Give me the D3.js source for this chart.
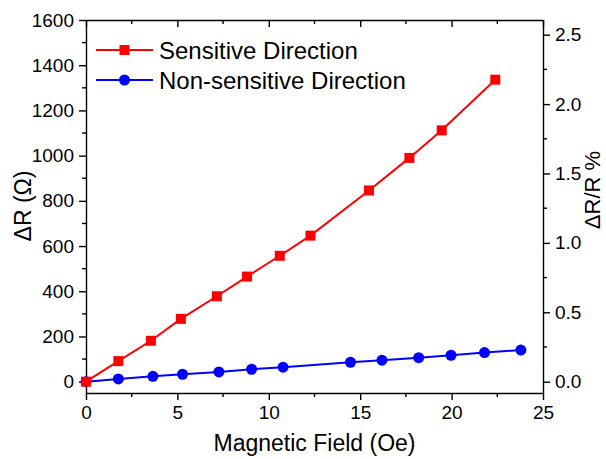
<!DOCTYPE html>
<html lang="en">
<head>
    <meta charset="UTF-8">
    <title>Magnetoresistance</title>
    <script src="https://cdnjs.cloudflare.com/ajax/libs/d3/7.8.5/d3.min.js"></script>
    <style>
        body {
            margin: 0;
            background: white;
            font-family: "Liberation Sans", Arial, sans-serif;
        }
        svg {
            display: block;
        }
        .domain, .tick line {
            stroke: #000;
            stroke-width: 1.4px;
        }
    </style>
</head>
<body>
    <svg width="606" height="459"></svg>

    <script>
        // sensitive direction (red squares)
        const sensField = [0, 1.77, 3.55, 5.19, 7.16, 8.81, 10.6, 12.28, 15.48, 17.69, 19.46, 22.39];
        const sensDR = [0, 91, 181, 278, 378, 465, 557, 646, 846, 990, 1112, 1336];

        // non-sensitive direction (blue circles)
        const nonField = [0, 1.77, 3.66, 5.28, 7.27, 9.06, 10.78, 14.47, 16.19, 18.2, 19.97, 21.8, 23.79];
        const nonDR = [0, 12, 24, 33, 43, 55, 64, 86, 95, 106, 117, 129, 140];

        const xTicks = [0, 5, 10, 15, 20, 25];
        const yTicks = [0, 200, 400, 600, 800, 1000, 1200, 1400, 1600];
        const y2Ticks = [0, 0.5, 1.0, 1.5, 2.0, 2.5];

        const margin = { top: 20, right: 63, bottom: 66, left: 86 };
        const width = 606 - margin.left - margin.right;
        const height = 459 - margin.top - margin.bottom;

        const svg = d3.select("svg");
        const g = svg.append("g").attr("transform", `translate(${margin.left},${margin.top})`);

        const x = d3.scaleLinear().domain([0, 25]).range([0, width]);
        const y = d3.scaleLinear().domain([-50, 1600]).range([height, 0]);
        const y2 = d3.scaleLinear().domain([-50 / 614, 1600 / 614]).range([height, 0]);

        // minor ticks
        const xMinor = d3.range(2.5, 25, 5);
        const yMinor = d3.range(100, 1600, 200);
        const y2Minor = d3.range(0.25, 2.6, 0.5);

        function minor(sel, vals, scale, orient) {
            sel.selectAll("line.minor")
                .data(vals)
                .enter()
                .append("line")
                .attr("class", "minor")
                .attr("stroke", "#000")
                .attr("stroke-width", 1.4)
                .each(function (d) {
                    const l = d3.select(this);
                    if (orient === "bottom" || orient === "top") l.attr("x1", scale(d)).attr("x2", scale(d)).attr("y1", 0).attr("y2", 4);
                    if (orient === "left") l.attr("y1", scale(d)).attr("y2", scale(d)).attr("x1", 0).attr("x2", -4);
                    if (orient === "right") l.attr("y1", scale(d)).attr("y2", scale(d)).attr("x1", 0).attr("x2", 4);
                });
        }

        const gx = g.append("g")
            .attr("transform", `translate(0,${height})`)
            .call(d3.axisBottom(x).tickValues(xTicks).tickSize(7).tickSizeOuter(0).tickPadding(6));
        minor(gx, xMinor, x, "bottom");

        const gTop = g.append("g")
            .call(d3.axisBottom(x).tickValues(xTicks).tickSize(7).tickSizeOuter(0).tickFormat(""));
        minor(gTop, xMinor, x, "top");

        const gy = g.append("g")
            .call(d3.axisLeft(y).tickValues(yTicks).tickSize(7).tickSizeOuter(0).tickPadding(5)
                .tickFormat(d3.format("d")));
        minor(gy, yMinor, y, "left");

        const gy2 = g.append("g")
            .attr("transform", `translate(${width},0)`)
            .call(d3.axisRight(y2).tickValues(y2Ticks).tickSize(7).tickSizeOuter(0).tickPadding(5)
                .tickFormat(d3.format(".1f")));
        minor(gy2, y2Minor, y2, "right");

        g.selectAll(".tick text")
            .style("font-family", "Liberation Sans, Arial, sans-serif")
            .style("font-size", "19px")
            .attr("fill", "#000");

        // axis titles
        svg.append("text")
            .attr("x", margin.left + width / 2)
            .attr("y", 451)
            .attr("text-anchor", "middle")
            .style("font-size", "23px")
            .text("Magnetic Field (Oe)");

        svg.append("text")
            .attr("transform", `translate(31,206) rotate(-90)`)
            .attr("text-anchor", "middle")
            .style("font-size", "23px")
            .text("ΔR (Ω)");

        svg.append("text")
            .attr("transform", `translate(600,190) rotate(-90)`)
            .attr("text-anchor", "middle")
            .style("font-size", "22px")
            .text("ΔR/R %");

        // series
        const line = d3.line().x(d => x(d[0])).y(d => y(d[1]));
        const sens = sensField.map((f, i) => [f, sensDR[i]]);
        const non = nonField.map((f, i) => [f, nonDR[i]]);

        g.append("path")
            .datum(non)
            .attr("fill", "none")
            .attr("stroke", "#0000ff")
            .attr("stroke-width", 2)
            .attr("d", line);

        g.selectAll(".dot")
            .data(non)
            .enter()
            .append("circle")
            .attr("cx", d => x(d[0]))
            .attr("cy", d => y(d[1]))
            .attr("r", 5.5)
            .attr("fill", "#0000ff");

        g.append("path")
            .datum(sens)
            .attr("fill", "none")
            .attr("stroke", "#ff0000")
            .attr("stroke-width", 2)
            .attr("d", line);

        g.selectAll(".sq")
            .data(sens)
            .enter()
            .append("rect")
            .attr("x", d => x(d[0]) - 5)
            .attr("y", d => y(d[1]) - 5)
            .attr("width", 10)
            .attr("height", 10)
            .attr("fill", "#ff0000");

        // legend
        const legend = [
            { name: "Sensitive Direction", color: "#ff0000", shape: "square" },
            { name: "Non-sensitive Direction", color: "#0000ff", shape: "circle" }
        ];
        const lg = svg.append("g");
        legend.forEach((d, i) => {
            const ly = 50 + i * 30;
            lg.append("line")
                .attr("x1", 96).attr("x2", 153)
                .attr("y1", ly).attr("y2", ly)
                .attr("stroke", d.color).attr("stroke-width", 2);
            if (d.shape === "square") {
                lg.append("rect").attr("x", 119.5).attr("y", ly - 5).attr("width", 10).attr("height", 10).attr("fill", d.color);
            } else {
                lg.append("circle").attr("cx", 124.5).attr("cy", ly).attr("r", 5.5).attr("fill", d.color);
            }
            lg.append("text")
                .attr("x", 159).attr("y", ly + 8.5)
                .style("font-size", "24px")
                .text(d.name);
        });
    </script>
</body>
</html>
